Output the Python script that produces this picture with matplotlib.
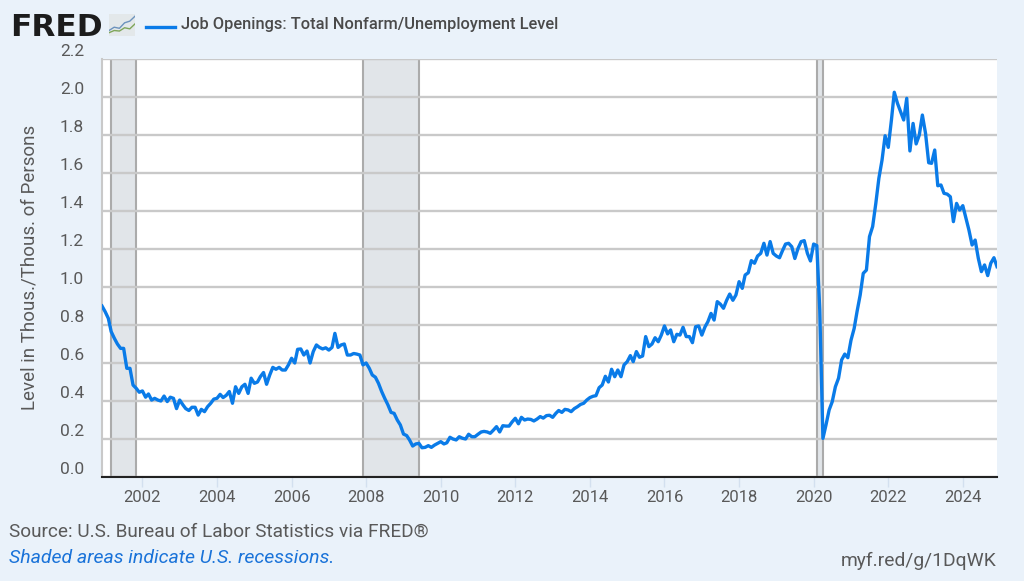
import numpy as np
import pandas as pd
import matplotlib
matplotlib.use('Agg')
import matplotlib.pyplot as plt
import matplotlib.dates as mdates
from matplotlib.patches import Rectangle

plt.rcParams['font.family'] = ['Roboto', 'DejaVu Sans']

start_month = '2000-12-01'
# ratio, one list per year
y2000 = [.90]
y2001 = [.87, .835, .765, .73, .70, .677, .677, .572, .572, .484, .467, .446]
y2002 = [.453, .42, .437, .405, .414, .405, .40, .426, .397, .42, .414, .36]
y2003 = [.405, .38, .36, .35, .367, .367, .326, .356, .344, .37, .388, .41]
y2004 = [.414, .435, .418, .43, .45, .388, .475, .44, .475, .488, .44, .52]
y2005 = [.493, .50, .528, .55, .488, .537, .577, .567, .577, .563, .563, .59]
y2006 = [.625, .60, .672, .674, .642, .663, .60, .66, .695, .682, .674, .68]
y2007 = [.668, .682, .756, .682, .695, .70, .642, .642, .65, .647, .642, .59]
y2008 = [.60, .572, .537, .525, .493, .45, .414, .38, .34, .335, .30, .274]
y2009 = [.226, .218, .195, .163, .174, .177, .154, .156, .165, .156, .168, .177]
y2010 = [.186, .174, .18, .209, .20, .195, .212, .204, .20, .225, .212, .212]
y2011 = [.225, .237, .24, .237, .23, .247, .265, .237, .27, .268, .268, .29]
y2012 = [.309, .28, .314, .30, .305, .303, .295, .305, .318, .31, .323, .325]
y2013 = [.314, .335, .35, .34, .356, .353, .344, .36, .37, .382, .388, .405]
y2014 = [.418, .425, .428, .47, .484, .53, .50, .567, .528, .563, .528, .59]
y2015 = [.607, .639, .607, .66, .63, .637, .739, .686, .70, .733, .712, .747]
y2016 = [.795, .753, .774, .712, .751, .747, .788, .739, .739, .707, .791, .795]
y2017 = [.747, .79, .817, .861, .826, .923, .91, .888, .93, .963, .93, .958]
y2018 = [1.028, .993, 1.063, 1.075, 1.139, 1.125, 1.163, 1.177, 1.23, 1.168, 1.239, 1.177]
y2019 = [1.163, 1.154, 1.19, 1.226, 1.23, 1.212, 1.15, 1.203, 1.239, 1.244, 1.177, 1.137]
y2020 = [1.226, 1.218, .88, .203, .274, .353, .396, .475, .52, .616, .647, .628]
y2021 = [.72, .782, .87, .958, 1.072, 1.089, 1.265, 1.318, 1.44, 1.572, 1.668, 1.796]
y2022 = [1.735, 1.879, 2.025, 1.967, 1.923, 1.879, 1.993, 1.716, 1.861, 1.753, 1.80, 1.905]
y2023 = [1.809, 1.654, 1.651, 1.721, 1.533, 1.537, 1.493, 1.489, 1.475, 1.344, 1.44, 1.405]
y2024 = [1.428, 1.361, 1.30, 1.221, 1.247, 1.151, 1.081, 1.116, 1.06, 1.125, 1.154, 1.107]

ratio = (y2000 + y2001 + y2002 + y2003 + y2004 + y2005 + y2006 + y2007 + y2008 + y2009
         + y2010 + y2011 + y2012 + y2013 + y2014 + y2015 + y2016 + y2017 + y2018 + y2019
         + y2020 + y2021 + y2022 + y2023 + y2024)
months = pd.date_range(start_month, periods=len(ratio), freq='MS')

recessions = [('2001-03-01', '2001-11-01'), ('2007-12-01', '2009-06-01'), ('2020-02-01', '2020-04-01')]
y_ticks = [0.0, 0.2, 0.4, 0.6, 0.8, 1.0, 1.2, 1.4, 1.6, 1.8, 2.0, 2.2]

# logo icon lines
icon_x = [0, 1, 2, 3, 4, 5]
icon_blue = [1.0, 1.6, 1.4, 2.4, 2.7, 3.6]
icon_green = [0.6, 1.0, 0.9, 1.5, 1.3, 2.2]

W, H = 1024, 581
bg = '#eaf2fa'
grey_text = '#595959'
blue = '#0a7be8'

fig = plt.figure(figsize=(W / 100, H / 100), dpi=100, facecolor=bg)
ax = fig.add_axes([102 / W, 1 - 477 / H, (997 - 102) / W, (477 - 59) / H])

for a, b in recessions:
    ax.axvspan(pd.Timestamp(a), pd.Timestamp(b), facecolor='#e1e5e9', edgecolor='#ababab', lw=1.5, zorder=1)

ax.plot(months, ratio, color=blue, lw=2.4, zorder=3)

ax.set_xlim(months[0], months[-1])
ax.set_ylim(0, 2.2)
ax.set_yticks(y_ticks)
ax.set_yticklabels(['%.1f' % v for v in y_ticks])
ax.set_axisbelow('line')
ax.grid(axis='y', color='#c9c9c9', lw=1.7)
ax.xaxis.set_major_locator(mdates.YearLocator(2))
ax.xaxis.set_major_formatter(mdates.DateFormatter('%Y'))
ax.tick_params(axis='x', length=7, width=1, color='#d3e0ef', labelsize=12, labelcolor=grey_text, pad=2)
ax.tick_params(axis='y', length=0, labelsize=12.5, labelcolor=grey_text, pad=13)
for lab in ax.get_yticklabels():
    lab.set_verticalalignment('bottom')

for s in ['top', 'right']:
    ax.spines[s].set_visible(False)
ax.spines['left'].set_color('#c9c9c9')
ax.spines['left'].set_linewidth(1.5)
ax.spines['bottom'].set_color('#222222')
ax.spines['bottom'].set_linewidth(1.5)

fig.text(30 / W, 1 - 267 / H, 'Level in Thous./Thous. of Persons', rotation=90, ha='center', va='center',
         fontsize=13.5, color=grey_text)

# header
fig.text(10 / W, 1 - 36 / H, 'FRED', fontsize=22.5, fontweight='bold', family='DejaVu Sans', color='#1c1c1c', va='baseline')
icon = fig.add_axes([109 / W, 1 - 36 / H, 26 / W, 22 / H], facecolor='#e3e8ea')
icon.plot(icon_x, icon_green, color='#7fa65a', lw=1)
icon.plot(icon_x, icon_blue, color='#6d93bd', lw=1)
icon.set_xlim(0, 5)
icon.set_ylim(0, 4)
icon.axis('off')
icon.add_patch(Rectangle((0, 0), 1, 1, transform=icon.transAxes, facecolor='#e3e8ea', zorder=0))

fig.add_artist(plt.Line2D([146 / W, 175 / W], [1 - 27 / H] * 2, color=blue, lw=2.4))
fig.text(181 / W, 1 - 25 / H, 'Job Openings: Total Nonfarm/Unemployment Level', fontsize=11.8, fontweight='medium',
         color='#4a4a4a', va='center')

# footer
fig.text(9 / W, 1 - 532 / H, 'Source: U.S. Bureau of Labor Statistics via FRED®', fontsize=13.7, color=grey_text, va='center')
fig.text(9 / W, 1 - 558 / H, 'Shaded areas indicate U.S. recessions.', fontsize=14, style='italic', color='#1a73d9', va='center')
fig.text(997 / W, 1 - 561 / H, 'myf.red/g/1DqWK', fontsize=13.9, color=grey_text, ha='right', va='center')

fig.savefig('out.png', dpi=100, facecolor=bg)
